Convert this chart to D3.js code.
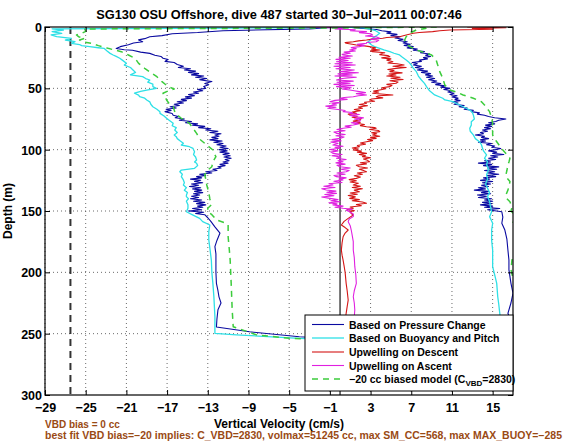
<!DOCTYPE html>
<html><head><meta charset="utf-8">
<script src="https://cdn.jsdelivr.net/npm/d3@7"></script>
<style>
body{margin:0;background:#fff}
text{font-family:"Liberation Sans",Arial,Helvetica,sans-serif;font-weight:bold}
</style>
</head><body>
<svg id="c" width="566" height="442"></svg>
<script>
// ---------- data ----------
const titleText = "SG130 OSU Offshore, dive 487 started 30\u2212Jul\u22122011 00:07:46";
const xLabel = "Vertical Velocity (cm/s)";
const yLabel = "Depth (m)";
const note1 = "VBD bias = 0 cc";
const note2 = "best fit VBD bias=\u221220 implies: C_VBD=2830, volmax=51245 cc, max SM_CC=568, max MAX_BUOY=\u2212285";
const xTicks = [-29,-25,-21,-17,-13,-9,-5,-1,3,7,11,15];
const yTicks = [0,50,100,150,200,250,300];
const xDomain = [-29,17];
const yDomain = [0,300];
const biasLineX = -26.5;
const zeroLineX = 0;
const legendLabels = ["Based on Pressure Change","Based on Buoyancy and Pitch","Upwelling on Descent","Upwelling on Ascent","\u221220 cc biased model (C"];

// [depth (m), velocity (cm/s)]
const pressureDescent = [[0,-0.3],[1.5,-3],[3,-11.5],[4.5,-14],[5.5,-16.5],[7,-17.5],[8,-18.7],[9.5,-19.2],[10.5,-19.8],[12,-19.4],[13,-20.3],[14.5,-20.8],[16,-21.6],[17.5,-22],[18.5,-21.2],[19,-20.4],[20.5,-19.6],[21.5,-18.7],[23,-18.2],[24,-17.6],[25.5,-17.4],[26.5,-16.9],[28,-17.2],[29,-16.3],[30.5,-16.0],[32,-15.4],[33,-15.9],[34,-14.7],[35,-15.3],[36,-14.2],[37,-14.9],[38,-13.9],[39,-14.6],[40,-13.4],[41,-14.2],[42,-13.1],[43,-13.8],[44.5,-12.6],[46,-13.3],[47,-12.9],[48.5,-13.4],[50,-13.2],[51,-14.0],[52,-13.5],[53,-14.4],[54,-13.9],[55,-14.9],[56,-14.3],[57,-15.2],[58,-14.6],[59,-15.6],[60,-15.1],[61,-16.0],[62,-15.4],[63,-16.3],[64,-15.8],[65,-16.7],[66,-16.1],[67,-17.1],[68,-16.6],[69,-17.2],[70.5,-16.5],[72,-16.4],[73,-15.9],[74,-16.2],[75,-15.3],[76,-15.8],[77,-14.6],[78,-15.2],[79,-14.0],[80,-14.5],[81,-13.3],[82,-13.9],[83,-12.7],[84,-13.2],[85,-12.0],[86,-12.8],[87,-11.7],[88,-12.3],[89,-11.9],[90,-12.6],[91,-12.0],[92,-12.8],[93,-11.6],[94,-12.4],[95,-11.5],[96,-12.1],[97,-11.2],[98,-11.8],[99,-11.0],[100,-11.9],[101,-11.1],[102,-11.8],[103,-10.9],[104,-11.5],[105,-10.8],[106,-11.4],[107,-10.7],[108,-11.3],[109,-10.9],[110,-11.5],[111,-11.0],[112,-11.8],[113,-11.3],[114,-12.0],[115,-11.7],[116,-12.5],[117,-12.1],[118,-13.2],[119,-12.6],[120,-13.8],[121,-13.2],[122,-14.1],[123,-13.6],[124,-14.7],[125,-13.7],[126,-14.3],[127,-13.5],[128,-14.6],[129,-13.9],[130,-14.8],[131,-13.7],[132,-14.5],[133,-13.6],[134,-14.3],[135,-13.5],[136,-14.4],[137,-13.8],[138,-14.6],[139,-13.9],[140,-14.7],[141,-13.6],[142,-14.4],[143,-13.3],[144,-14.1],[145,-13.2],[146,-14.0],[147,-13.5],[148,-14.5],[149,-13.6],[150,-14.9],[151,-13.4],[152,-14.2],[153,-13.3],[155.5,-13.0],[158.5,-12.7],[163,-12.3],[168,-11.8],[174,-12.1],[179,-12.3],[185,-12.2],[190,-12.2],[200,-12.2],[209,-12.15],[215,-12.0],[220,-11.9],[225,-11.7],[230.5,-12.0],[238,-12.1],[244.5,-12.15],[248.5,-8.9],[252.5,-4],[254.5,0],[256,8],[256.5,17.3]];
const pressureAscent = [[250,17.1],[240,16.8],[233.4,16.5],[225,16.8],[217,17.0],[209,16.8],[198,16.6],[190,16.6],[181.8,16.5],[173,16.4],[165.5,16.2],[160,15.9],[155,16.0],[150.6,15.9],[149,14.5],[148,15.7],[147,14.2],[146,15.0],[145,13.8],[144,14.9],[143,14.0],[142,15.0],[141,14.2],[140,14.9],[139,13.6],[138,14.4],[137,13.5],[136,14.8],[135,13.9],[134,14.6],[133,13.2],[132,14.3],[131,13.6],[130,14.6],[129,13.9],[128,14.8],[127,14.0],[126,15.0],[125,13.8],[124,14.7],[123,14.1],[122,15.3],[121,14.4],[120,15.6],[119,14.5],[118,15.2],[117,14.2],[116,15.4],[115,14.5],[114,15.6],[113,14.1],[112,14.9],[111,13.6],[110,14.8],[109,14.2],[108,15.3],[107,14.6],[106,15.5],[105,14.8],[104,16.1],[103,15.0],[102,15.4],[101,14.6],[100,15.3],[99,15.8],[98,14.9],[97,15.2],[96,14.4],[95,14.9],[94,13.6],[93,14.3],[92,13.8],[91,14.6],[90,13.9],[89,14.2],[88,13.3],[87,14.1],[86,13.8],[85,14.5],[84,14.0],[83,14.8],[82,14.2],[81,14.9],[80,14.3],[79,15.2],[78,14.6],[77,15.3],[76,15.6],[75,16.3],[74,15.2],[73,14.6],[72,14.2],[71,13.5],[70,13.7],[69,12.9],[68,13.1],[67,12.2],[66,12.5],[65,11.7],[64,12.2],[63,11.2],[62,11.6],[61,11.0],[60,11.8],[59,11.3],[58,11.6],[57,11.0],[56,11.5],[55,10.8],[54,11.2],[53,10.6],[52,11.0],[51,10.2],[50,10.8],[49,9.9],[48,10.3],[47,9.4],[46,9.9],[45,9.0],[44,9.5],[43,8.7],[42,9.3],[41,8.5],[40,9.1],[39,8.4],[38,8.9],[37,8.0],[36,8.6],[35,7.6],[34,8.2],[33,7.4],[32,8.0],[31,7.2],[30,7.6],[29,7.1],[28,8.0],[27,7.8],[26,8.6],[25,8.2],[24,8.9],[23,8.4],[22,8.8],[21,7.9],[20,8.3],[19,7.2],[18,7.6],[17,6.6],[16,7.2],[15,6.3],[14,6.9],[13,6.2],[12,6.6],[11,5.7],[10,6.2],[9,5.4],[8,5.9],[7,5.0],[6,5.6],[5,4.6],[4,5.0],[3,4.1],[2,3.6],[1,2.0],[0,0.5]];

const modelDescent = [[0,6],[0.8,-10],[1.5,-28.3],[2.5,-27.2],[3.8,-28.3],[5.2,-27.35],[6.5,-28.4],[7.9,-27.85],[9.2,-26.4],[10.6,-27.0],[12,-26.05],[13.3,-26.4],[14.3,-25.6],[15.2,-25.4],[16,-24.6],[16.9,-23.75],[17.4,-23.2],[19.5,-22.9],[21.5,-22.6],[22.8,-22.3],[24,-22.0],[25.5,-21.65],[27,-21.4],[29.6,-21.0],[31,-21.2],[33,-20.6],[35,-20.35],[37,-20.1],[39,-20.6],[40.5,-19.4],[42,-19.1],[43.2,-18.7],[45,-18.9],[46.5,-18.4],[48.6,-18.4],[50,-18.05],[51.4,-19.0],[52.5,-19.6],[54,-20.2],[55.5,-19.8],[56.8,-19.7],[58,-19.2],[59.5,-19.0],[61,-18.7],[63,-18.6],[65,-18.4],[67,-18.0],[69,-17.7],[70.4,-17.7],[72.5,-17.3],[74.4,-17.05],[76,-16.8],[78.5,-16.4],[80.5,-16.5],[82,-16.1],[84,-16.25],[86,-16.0],[88,-16.3],[89.4,-16.1],[91,-16.0],[93,-15.7],[94.8,-15.4],[96.2,-15.6],[97.6,-14.8],[99,-14.45],[101.7,-14.3],[104,-14.4],[106,-14.2],[108.4,-14.1],[110,-14.3],[111.1,-14.1],[113,-14.0],[115.2,-14.3],[116.6,-15.6],[118,-15.75],[120,-15.5],[122,-15.6],[124.7,-15.4],[127,-15.3],[128.8,-15.4],[131,-15.1],[133,-15.3],[135,-15.0],[137,-15.1],[138.3,-15.1],[140,-14.9],[142,-15.1],[145,-14.95],[147.8,-14.95],[150.6,-15.1],[153.3,-14.45],[156,-13.8],[158.7,-13.5],[161.4,-12.8],[167,-12.9],[173.6,-12.9],[180,-12.8],[190,-12.65],[200,-12.6],[209,-12.5],[220,-12.4],[236.2,-12.3],[249.7,-12.3],[251,-10.2],[253.8,-4],[255,0],[257,16]];
const modelAscent = [[250,15.8],[240,15.8],[233.4,15.7],[226,15.6],[219.9,15.5],[209,15.4],[202,15.2],[195.4,15.0],[188,15.0],[181.8,15.0],[174,14.9],[165.5,14.9],[160,15.0],[154.6,14.7],[150.6,14.9],[147,14.8],[142.4,14.7],[138,14.5],[135,14.7],[131.5,14.5],[128,14.3],[124,14.5],[120.6,14.4],[116,14.6],[112,14.4],[109.8,14.5],[107,14.2],[104.3,14.4],[101,14.1],[98.9,14.0],[96,13.9],[93.5,13.7],[91,13.3],[88,13.1],[85,12.8],[82.6,12.75],[80,12.9],[77.2,12.9],[75,13.2],[71.7,13.1],[69.5,13.0],[67.7,12.75],[65,12.1],[63,11.6],[60.9,11.1],[59.5,10.3],[58.1,10.1],[55.4,9.3],[52,8.8],[48.6,8.5],[46,8.3],[43.2,8.0],[40,7.7],[36.4,7.5],[33.5,7.2],[31,7.0],[29,6.8],[26.9,6.5],[24.5,6.1],[22.8,5.85],[21.4,5.3],[20.1,4.9],[18.7,4.3],[17.4,3.9],[16,3.4],[14.7,3.1],[13.3,2.9],[12,2.75],[10.6,3.0],[9.2,3.2],[7,3.6],[5.1,3.9],[3,3.5],[1,2.5],[0,1.5]];

const upwellDescent = [[0,12.5],[0.6,16.3],[1.2,13.0],[1.8,15.0],[2.4,10.8],[3.1,9.8],[3.8,9.1],[4.5,7.8],[5.1,7.2],[6.5,6.5],[7.9,5.85],[8.5,4.6],[9.2,4.2],[9.9,3.2],[10.6,2.6],[11.3,1.8],[12,1.3],[12.7,0.5],[13.3,0.6],[14,1.2],[14.7,1.6],[15.4,2.4],[16,2.9],[17,3.5],[18,3.1],[18.7,3.9],[19.5,3.0],[20.1,3.2],[21,4.4],[21.4,4.2],[22.5,3.9],[23.3,4.7],[24.2,4.9],[25.2,4.1],[26,5.0],[27,4.6],[28.3,5.2],[29.3,4.7],[30,5.6],[31,6.3],[32,5.2],[33,6.5],[33.7,5.5],[34.7,4.7],[35.5,5.3],[36.4,4.9],[37.4,6.1],[38.3,4.8],[39.1,5.5],[40,4.6],[41,5.9],[41.8,5.0],[42.8,6.2],[43.8,4.9],[44.8,5.7],[45.9,5.5],[46.8,4.6],[47.7,5.1],[48.6,4.9],[49.5,4.1],[50.4,4.5],[51.4,3.9],[52.3,3.3],[53,3.8],[54,3.2],[55,4.6],[55.4,5.2],[56.1,3.8],[56.8,3.55],[57.8,4.2],[58.7,3.1],[59.5,2.9],[60.5,3.4],[61.3,2.4],[62.2,2.6],[63.2,1.9],[64.2,2.7],[65.2,1.8],[66.3,2.2],[67.2,1.4],[68.2,2.0],[69.3,1.2],[70.4,1.6],[71,0.8],[71.7,0.95],[72.7,1.7],[73.6,1.2],[74.6,2.1],[75.8,1.9],[76.7,1.3],[77.6,2.0],[78.5,1.6],[79.5,2.4],[80.4,2.0],[81.3,2.6],[82,3.4],[82.6,3.55],[83.5,2.9],[84.4,3.8],[85.3,3.9],[86.2,3.1],[87.1,3.6],[88,3.2],[89,3.9],[90,3.0],[90.8,3.55],[91.7,2.7],[92.6,3.2],[93.5,2.6],[94.5,2.0],[95.5,2.5],[96.6,1.7],[97.6,1.9],[98.6,1.2],[99.5,1.8],[100.3,1.3],[101.2,2.1],[102,1.7],[103,2.6],[104,1.9],[104.9,2.5],[105.7,2.2],[106.6,3.0],[107.6,2.3],[108.7,2.7],[109.8,2.9],[110.7,2.0],[111.6,2.6],[112.7,1.6],[113.9,1.9],[114.9,2.7],[115.9,1.9],[117,2.3],[118,2.6],[119,1.7],[120,2.2],[121.2,1.4],[122.3,2.0],[123.4,1.6],[124.4,0.9],[125.4,1.6],[126.4,1.0],[127.4,1.8],[128.8,1.3],[129.8,2.0],[130.8,1.2],[131.8,2.2],[133,1.4],[134.3,1.9],[135.3,1.0],[136.3,1.7],[137.4,0.8],[138.5,1.5],[139.7,0.95],[140.7,1.9],[141.7,1.2],[142.7,2.2],[143.7,2.6],[144.7,1.6],[145.7,2.1],[146.8,1.0],[147.8,1.3],[148.8,0.7],[149.7,1.4],[150.6,0.95],[152,1.1],[153.3,1.3],[156,0.8],[158.5,0.4],[161.4,0.13],[163.5,0.5],[165.5,0.8],[168,0.5],[171,0.3],[176,0.2],[181.8,0.13],[186,0.2],[190,0.3],[195,0.4],[200,0.5],[209,0.6],[215,0.7],[222.6,0.8],[228,0.7],[233.4,0.6],[240,0.5],[246,0.6],[250,0.7]];

const upwellAscent = [[0,-3.3],[0.5,-1],[1,0.5],[1.5,-0.5],[2.2,1.5],[3,1.0],[3.8,2.6],[4.6,1.9],[5.5,3.0],[6.5,3.2],[7.3,2.5],[8.2,3.6],[9.2,3.9],[10,3.0],[10.8,3.8],[12,3.55],[12.6,2.6],[13.3,2.6],[14.2,1.7],[15,2.4],[16,1.9],[16.8,1.1],[17.7,1.6],[18.7,0.95],[19.6,1.5],[20.5,0.4],[21.4,1.0],[22.3,0.2],[22.8,0.3],[23.7,1.2],[24.6,-0.1],[25.5,1.0],[26.4,-0.4],[27.3,0.8],[28.3,-0.35],[29.2,1.2],[30,-0.5],[31,1.5],[32,-0.6],[33,1.0],[34,-0.4],[35,1.4],[36.4,0],[37.3,1.8],[38.2,-0.2],[39.1,1.2],[40,-0.5],[41,1.6],[42,0.2],[43.2,-0.35],[44.1,1.3],[45,-0.3],[45.9,1.0],[46.8,-0.6],[47.7,1.4],[48.6,-0.35],[49.5,1.1],[50.5,0.2],[51.4,0.95],[52,1.4],[52.7,1.9],[53.5,2.5],[54.3,1.6],[55.4,2.6],[56.1,1.8],[56.8,1.3],[57.5,0.4],[58.1,0],[59,0.7],[59.8,-0.5],[60.9,-1.0],[61.8,0],[62.7,-0.8],[63.6,-0.35],[64.5,-1.4],[65.4,-0.4],[66.3,-1.2],[67.2,-0.2],[68.1,0.5],[69,0.3],[69.7,1.2],[70.4,0.95],[71.3,1.9],[72.2,1.0],[73.1,1.6],[74.1,2.3],[75,1.4],[76,2.0],[77.2,1.9],[78,1.1],[79,1.8],[79.9,1.3],[80.8,0.5],[81.7,1.1],[82.6,0.3],[83.6,-0.3],[84.6,0.5],[85.7,-0.6],[86.7,-0.35],[87.7,0.5],[88.7,-0.4],[89.7,0.4],[90.8,0],[91.8,-0.8],[92.8,0.1],[93.8,-0.9],[94.9,-0.2],[96.2,-0.7],[97.2,0.3],[98,-0.5],[98.9,0],[99.9,-1.0],[101,-0.2],[102,-0.9],[103,-0.7],[104,0.2],[105,-0.8],[106,0.1],[107,-0.35],[108,0.6],[109,-0.2],[109.8,0.3],[110.8,-0.4],[111.8,0.5],[112.8,-0.3],[113.9,0],[114.9,1.0],[115.9,0.1],[117,0.9],[118,0.6],[119,-0.3],[120,0.5],[121,-0.6],[122,-0.35],[123,0.6],[124,-0.1],[124.7,0.3],[125.8,-0.6],[126.8,0.2],[127.8,-1.1],[128.8,-0.7],[129.8,-1.6],[130.9,-0.5],[131.9,-1.8],[132.9,-1.35],[133.8,-0.4],[134.7,-1.3],[135.6,-0.35],[136.6,-1.5],[137.6,-0.6],[138.6,-1.8],[139.7,-1.0],[140.7,-0.2],[141.6,-0.9],[142.4,0],[143.3,-1.1],[144.2,-0.3],[145,-0.7],[146,0.3],[146.9,-0.5],[147.8,0.3],[148.6,1.2],[149.4,0.6],[150.6,0.95],[152.5,1.3],[154.6,1.3],[156.5,0.9],[158.7,0.8],[162,1.0],[165.5,1.1],[170,1.2],[175,1.3],[181.8,1.3],[188,1.4],[195.4,1.45],[202,1.55],[209,1.6],[215,1.4],[219.9,1.3],[225,1.4],[230.7,1.45],[236,1.4]];

const biasedDescent = [[0,9.5],[0.8,0],[1.6,-25.1],[3.5,-25.0],[5.2,-25.4],[6.5,-25.9],[7.9,-25.7],[9.2,-25.1],[10.6,-25.6],[12,-25.4],[13.3,-24.4],[15.2,-23.75],[17.4,-22.8],[20.1,-21.5],[22.8,-20.8],[25.5,-20.15],[29.6,-19.8],[33.7,-19.2],[37.8,-18.5],[40.5,-18.0],[44.6,-17.5],[48.6,-16.9],[50.5,-16.3],[51.4,-16.7],[54,-17.4],[57,-17.2],[59.5,-17.05],[63.6,-16.7],[65,-16.4],[70.4,-16.2],[74.4,-15.6],[78.5,-14.8],[82.6,-14.45],[86.7,-14.1],[92.1,-13.7],[96.2,-13.1],[100.3,-12.5],[103,-12.4],[105.7,-12.2],[109.8,-12.5],[113.9,-12.6],[116.6,-13.0],[120.6,-13.3],[124,-13.2],[128.8,-13.1],[135,-12.9],[140,-12.8],[145,-12.65],[147.8,-13.0],[150.6,-13.0],[153,-12.6],[157.3,-12.15],[160,-11.2],[161.4,-11.0],[171,-11.0],[180,-10.9],[190,-10.8],[209,-10.7],[230.7,-10.6],[244.3,-10.5],[251,-8.2],[253.8,-4.95],[256,2],[258,18]];
const biasedAscent = [[245,17.8],[235,17.6],[225,17.5],[215,17.3],[205,17.0],[198,16.8],[190,16.9],[182,17.2],[175,17.5],[167,17.4],[160,17.0],[153.3,17.2],[150,16.8],[147,16.9],[142.4,16.7],[140,16.4],[137,16.3],[133,16.5],[130,16.6],[126,16.7],[123,16.4],[120.6,16.3],[117,16.4],[112.5,16.5],[110,16.6],[107,16.7],[104,16.4],[100.3,16.0],[97,15.7],[93.5,15.4],[90,15.1],[88,15.0],[85,15.0],[82.6,14.9],[78.5,15.0],[74,14.9],[69,14.7],[66,14.4],[63.6,14.2],[60.9,13.9],[58.1,13.1],[55.4,12.1],[53,11.4],[51.4,10.8],[47.3,10.3],[41.8,10.1],[36.4,9.8],[31,9.6],[26.9,9.45],[22.8,9.0],[21.4,8.5],[18.7,7.5],[16,6.85],[13.3,6.5],[10.6,6.35],[7.9,6.5],[5.1,6.85],[2.4,7.5],[1,8.5]];

// ---------- layout ----------
const W = 566, H = 442;
const L = 45, R = 513, T = 27, B = 395;
const svg = d3.select("#c");
const x = d3.scaleLinear().domain(xDomain).range([L, R]);
const y = d3.scaleLinear().domain(yDomain).range([T, B]);

svg.append("rect").attr("width", W).attr("height", H).attr("fill", "#fff");

// grid
const grid = svg.append("g").attr("stroke", "#444").attr("stroke-width", 0.8).attr("stroke-dasharray", "1,3");
grid.selectAll(".gx").data(xTicks).enter().append("line")
  .attr("x1", d => x(d)).attr("x2", d => x(d)).attr("y1", T).attr("y2", B);
grid.selectAll(".gy").data(yTicks.slice(1, -1)).enter().append("line")
  .attr("y1", d => y(d)).attr("y2", d => y(d)).attr("x1", L).attr("x2", R);

// clip
svg.append("clipPath").attr("id", "clip").append("rect")
  .attr("x", L).attr("y", T).attr("width", R - L).attr("height", B - T);
const plot = svg.append("g").attr("clip-path", "url(#clip)");

// reference lines
plot.append("line").attr("x1", x(biasLineX)).attr("x2", x(biasLineX)).attr("y1", T).attr("y2", B)
  .attr("stroke", "#333").attr("stroke-width", 2).attr("stroke-dasharray", "7,5");
plot.append("line").attr("x1", x(zeroLineX)).attr("x2", x(zeroLineX)).attr("y1", T).attr("y2", B)
  .attr("stroke", "#000").attr("stroke-width", 1.1);

const line = d3.line().x(d => x(d[1])).y(d => y(d[0]));
const series = [
  {data: pressureDescent.concat(pressureAscent), color: "#0a0aa0", w: 1.1, dash: null},
  {data: modelDescent.concat(modelAscent), color: "#2ee0e6", w: 1.3, dash: null},
  {data: upwellDescent, color: "#d41515", w: 1.1, dash: null},
  {data: upwellAscent, color: "#e020e0", w: 1.1, dash: null},
  {data: biasedDescent.concat(biasedAscent), color: "#3ccc3c", w: 1.5, dash: "6,5"}
];
series.forEach(s => {
  plot.append("path").datum(s.data).attr("d", line)
    .attr("fill", "none").attr("stroke", s.color).attr("stroke-width", s.w)
    .attr("stroke-linejoin", "round")
    .attr("stroke-dasharray", s.dash);
});

// axes
const fmt = d => d3.format("d")(d);
svg.append("g").attr("transform", `translate(0,${B})`)
  .call(d3.axisBottom(x).tickValues(xTicks).tickSize(-5).tickPadding(8).tickFormat(fmt));
svg.append("g").attr("transform", `translate(0,${T})`)
  .call(d3.axisTop(x).tickValues(xTicks).tickSize(-5).tickFormat(""));
const ay = svg.append("g").attr("transform", `translate(${L},0)`)
  .call(d3.axisLeft(y).tickValues(yTicks).tickSize(-5).tickPadding(3).tickFormat(fmt));
svg.append("g").attr("transform", `translate(${R},0)`)
  .call(d3.axisRight(y).tickValues(yTicks).tickSize(-5).tickFormat(""));
svg.selectAll(".domain").remove();
svg.selectAll(".tick line").attr("stroke", "#000").attr("stroke-width", 1);
svg.selectAll(".tick text").attr("fill", "#000").style("font-size", "12.5px")
  .style("font-family", "'Liberation Sans', Arial, sans-serif").style("font-weight", "bold");
ay.selectAll(".tick text").attr("dy", "0.36em");

// frame
svg.append("rect").attr("x", L).attr("y", T).attr("width", R - L).attr("height", B - T)
  .attr("fill", "none").attr("stroke", "#000").attr("stroke-width", 1.2);

// title & labels
svg.append("text").attr("x", (L + R) / 2).attr("y", 19).attr("text-anchor", "middle")
  .style("font-size", "12.8px").text(titleText);
svg.append("text").attr("x", (L + R) / 2).attr("y", 428).attr("text-anchor", "middle")
  .style("font-size", "12px").text(xLabel);
svg.append("text").attr("transform", `translate(12,${(T + B) / 2}) rotate(-90)`)
  .attr("text-anchor", "middle").style("font-size", "12px").text(yLabel);
svg.append("text").attr("x", 45).attr("y", 428).attr("fill", "#9a4a14")
  .style("font-size", "10px").text(note1);
svg.append("text").attr("x", 45).attr("y", 439).attr("fill", "#9a4a14")
  .style("font-size", "10px").attr("textLength", 517).attr("lengthAdjust", "spacingAndGlyphs").text(note2);

// legend
const lg = svg.append("g");
lg.append("rect").attr("x", 305).attr("y", 315).attr("width", 208).attr("height", 76)
  .attr("fill", "#fff").attr("stroke", "#000").attr("stroke-width", 1);
const rowY = [324.5, 338, 352, 365.5, 379];
series.forEach((s, i) => {
  lg.append("line").attr("x1", 312).attr("x2", 344).attr("y1", rowY[i]).attr("y2", rowY[i])
    .attr("stroke", s.color).attr("stroke-width", s.w).attr("stroke-dasharray", s.dash);
  const t = lg.append("text").attr("x", 349).attr("y", rowY[i] + 4).style("font-size", "10.5px");
  t.append("tspan").text(legendLabels[i]);
  if (i === 4) {
    t.append("tspan").attr("dy", 3).style("font-size", "8px").text("VBD");
    t.append("tspan").attr("dy", -3).text("=2830)");
  }
});
</script>
</body></html>
